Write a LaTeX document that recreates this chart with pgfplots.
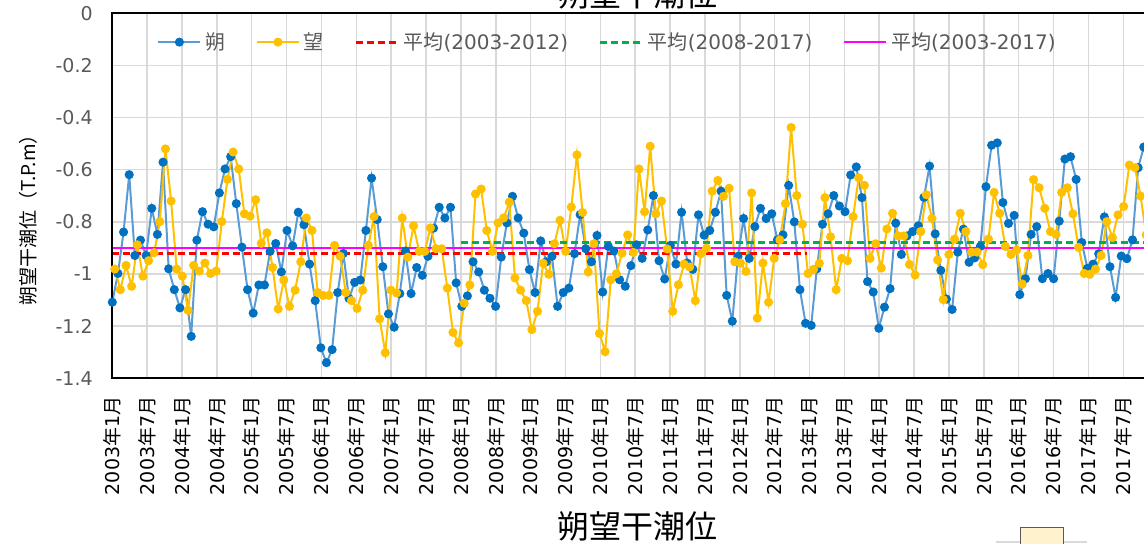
\documentclass[border=0pt]{standalone}
\usepackage{pgfplots}
\pgfplotsset{compat=1.18}
\usepackage{pgfplotstable}
\usepackage{fontspec}
\setmainfont{DejaVu Sans}
\newfontfamily\cjk{Noto Sans CJK JP}
\newcommand{\ym}[2]{#1{\cjk 年}#2{\cjk 月}}
\definecolor{shuoline}{HTML}{5B9BD5}
\definecolor{shuomark}{HTML}{0070C0}
\definecolor{wangc}{HTML}{FFC000}
\definecolor{avgred}{HTML}{FF0000}
\definecolor{avggreen}{HTML}{00B050}
\definecolor{avgmag}{HTML}{FF00FF}
\definecolor{tickgray}{HTML}{595959}
\definecolor{gridgray}{HTML}{D9D9D9}
\definecolor{boxfill}{HTML}{FFF2CC}

\pgfplotstableread{
x y
0 -1.108
0.97 -0.998
1.94 -0.839
2.91 -0.619
3.88 -0.929
4.85 -0.870
5.82 -0.929
6.79 -0.748
7.76 -0.848
8.73 -0.571
9.70 -0.980
10.67 -1.060
11.64 -1.130
12.61 -1.060
13.58 -1.239
14.55 -0.870
15.52 -0.761
16.49 -0.809
17.46 -0.819
18.43 -0.689
19.40 -0.597
20.37 -0.550
21.34 -0.730
22.31 -0.897
23.28 -1.060
24.25 -1.150
25.22 -1.042
26.19 -1.042
27.16 -0.913
28.13 -0.883
29.10 -0.992
30.07 -0.833
31.04 -0.892
32.01 -0.763
32.98 -0.811
33.95 -0.962
34.92 -1.102
35.89 -1.283
36.86 -1.340
37.83 -1.290
38.80 -1.071
39.77 -0.921
40.74 -1.094
41.71 -1.032
42.68 -1.023
43.65 -0.833
44.62 -0.632
45.59 -0.791
46.56 -0.972
47.53 -1.153
48.51 -1.204
49.48 -1.075
50.45 -0.912
51.42 -1.075
52.39 -0.975
53.36 -1.005
54.33 -0.932
55.30 -0.824
56.27 -0.744
57.24 -0.785
58.21 -0.744
59.18 -1.034
60.15 -1.124
61.12 -1.084
62.09 -0.953
63.06 -0.992
64.03 -1.062
65.00 -1.093
65.97 -1.124
66.94 -0.935
67.91 -0.804
68.88 -0.702
69.85 -0.785
70.82 -0.843
71.79 -0.983
72.76 -1.071
73.73 -0.873
74.70 -0.953
75.67 -0.932
76.64 -1.124
77.61 -1.071
78.58 -1.054
79.55 -0.922
80.52 -0.772
81.49 -0.903
82.46 -0.953
83.43 -0.852
84.40 -1.069
85.37 -0.894
86.34 -0.912
87.31 -1.022
88.28 -1.047
89.25 -0.968
90.22 -0.888
91.19 -0.940
92.16 -0.831
93.13 -0.699
94.10 -0.949
95.07 -1.019
96.04 -0.890
97.01 -0.962
97.98 -0.763
98.95 -0.958
99.92 -0.982
100.89 -0.773
101.86 -0.851
102.83 -0.833
103.80 -0.763
104.77 -0.682
105.74 -1.082
106.71 -1.181
107.68 -0.932
108.65 -0.787
109.62 -0.940
110.59 -0.818
111.56 -0.748
112.53 -0.787
113.50 -0.769
114.47 -0.869
115.44 -0.850
116.41 -0.660
117.38 -0.800
118.35 -1.060
119.32 -1.189
120.29 -1.197
121.26 -0.980
122.23 -0.809
123.20 -0.769
124.17 -0.699
125.14 -0.739
126.11 -0.761
127.08 -0.620
128.05 -0.589
129.02 -0.707
129.99 -1.029
130.96 -1.069
131.93 -1.208
132.90 -1.127
133.87 -1.056
134.84 -0.805
135.81 -0.925
136.78 -0.854
137.75 -0.837
138.72 -0.815
139.69 -0.706
140.66 -0.586
141.63 -0.846
142.60 -0.986
143.57 -1.096
144.54 -1.136
145.52 -0.916
146.49 -0.828
147.46 -0.955
148.43 -0.938
149.40 -0.894
150.37 -0.665
151.34 -0.506
152.31 -0.497
153.28 -0.726
154.25 -0.806
155.22 -0.775
156.19 -1.079
157.16 -1.018
158.13 -0.848
159.10 -0.818
160.07 -1.018
161.04 -0.998
162.01 -1.018
162.98 -0.797
163.95 -0.559
164.92 -0.550
165.89 -0.637
166.86 -0.879
167.83 -0.978
168.80 -0.962
169.77 -0.922
170.74 -0.781
171.71 -0.972
172.68 -1.090
173.65 -0.931
174.62 -0.941
175.59 -0.869
176.56 -0.592
177.53 -0.513
178.50 -0.550
}\shuotab

\pgfplotstableread{
x y
0.42 -0.981
1.39 -1.060
2.36 -0.967
3.33 -1.047
4.30 -0.888
5.27 -1.008
6.24 -0.949
7.21 -0.918
8.18 -0.799
9.15 -0.520
10.12 -0.720
11.09 -0.981
12.06 -1.008
13.03 -1.139
14.00 -0.967
14.97 -0.989
15.94 -0.958
16.91 -0.998
17.88 -0.989
18.85 -0.799
19.82 -0.637
20.79 -0.532
21.76 -0.597
22.73 -0.769
23.70 -0.778
24.67 -0.715
25.64 -0.882
26.61 -0.842
27.58 -0.975
28.55 -1.134
29.52 -1.023
30.49 -1.124
31.46 -1.062
32.43 -0.953
33.40 -0.785
34.37 -0.833
35.34 -1.071
36.31 -1.082
37.28 -1.082
38.25 -0.890
39.22 -0.932
40.19 -1.071
41.16 -1.102
42.13 -1.132
43.10 -1.062
44.07 -0.890
45.04 -0.780
46.01 -1.172
46.98 -1.302
47.95 -1.062
48.93 -1.073
49.90 -0.785
50.87 -0.935
51.84 -0.815
52.81 -0.913
53.78 -0.913
54.75 -0.823
55.72 -0.903
56.69 -0.903
57.66 -1.054
58.63 -1.224
59.60 -1.264
60.57 -1.112
61.54 -1.042
62.51 -0.693
63.48 -0.674
64.45 -0.833
65.42 -0.913
66.39 -0.804
67.36 -0.785
68.33 -0.724
69.30 -1.015
70.27 -1.062
71.24 -1.102
72.21 -1.213
73.18 -1.143
74.15 -0.959
75.12 -1.001
76.09 -0.884
77.06 -0.794
78.03 -0.913
79.00 -0.743
79.97 -0.543
80.94 -0.764
81.91 -0.992
82.88 -0.884
83.85 -1.228
84.82 -1.298
85.79 -1.022
86.76 -0.999
87.73 -0.920
88.70 -0.850
89.67 -0.917
90.64 -0.597
91.61 -0.761
92.58 -0.510
93.55 -0.769
94.52 -0.720
95.49 -0.904
96.46 -1.143
97.43 -1.041
98.40 -0.962
99.37 -0.973
100.34 -1.102
101.31 -0.922
102.28 -0.901
103.25 -0.682
104.22 -0.641
105.19 -0.702
106.16 -0.671
107.13 -0.953
108.10 -0.958
109.07 -0.990
110.04 -0.689
111.01 -1.169
111.98 -0.958
112.95 -1.108
113.92 -0.940
114.89 -0.869
115.86 -0.730
116.83 -0.438
117.80 -0.699
118.77 -0.809
119.74 -0.998
120.71 -0.982
121.68 -0.959
122.65 -0.707
123.62 -0.857
124.59 -1.060
125.56 -0.940
126.53 -0.949
127.50 -0.780
128.47 -0.631
129.44 -0.660
130.41 -0.940
131.38 -0.884
132.35 -0.977
133.32 -0.827
134.29 -0.767
135.26 -0.854
136.23 -0.854
137.20 -0.963
138.17 -1.004
139.14 -0.837
140.11 -0.696
141.08 -0.787
142.05 -0.946
143.02 -1.098
143.99 -0.925
144.96 -0.866
145.94 -0.767
146.91 -0.837
147.88 -0.916
148.85 -0.916
149.82 -0.964
150.79 -0.866
151.76 -0.687
152.73 -0.767
153.70 -0.894
154.67 -0.925
155.64 -0.908
156.61 -1.038
157.58 -0.929
158.55 -0.638
159.52 -0.669
160.49 -0.748
161.46 -0.837
162.43 -0.848
163.40 -0.687
164.37 -0.669
165.34 -0.769
166.31 -0.898
167.28 -0.998
168.25 -1.001
169.22 -0.981
170.19 -0.929
171.16 -0.799
172.13 -0.860
173.10 -0.773
174.07 -0.741
175.04 -0.582
176.01 -0.592
176.98 -0.701
177.95 -0.850
}\wangtab

\begin{document}
\begin{tikzpicture}
\begin{axis}[
  scale only axis,
  width=515.85pt, height=182.5pt,
  xmin=0, xmax=177.57, ymin=-1.4, ymax=0,
  clip=false,
  axis line style={draw=none},
  tick style={draw=none},
  major tick length=0pt,
  ytick={-1.4,-1.2,-1,-0.8,-0.6,-0.4,-0.2,0},
  yticklabels={-1.4,-1.2,-1,-0.8,-0.6,-0.4,-0.2,0},
  xtick={0,6,...,174},
  xticklabels={\ym{2003}{1},\ym{2003}{7},\ym{2004}{1},\ym{2004}{7},\ym{2005}{1},\ym{2005}{7},\ym{2006}{1},\ym{2006}{7},\ym{2007}{1},\ym{2007}{7},\ym{2008}{1},\ym{2008}{7},\ym{2009}{1},\ym{2009}{7},\ym{2010}{1},\ym{2010}{7},\ym{2011}{1},\ym{2011}{7},\ym{2012}{1},\ym{2012}{7},\ym{2013}{1},\ym{2013}{7},\ym{2014}{1},\ym{2014}{7},\ym{2015}{1},\ym{2015}{7},\ym{2016}{1},\ym{2016}{7},\ym{2017}{1},\ym{2017}{7}},
  grid=major,
  major grid style={gridgray, line width=0.75pt},
  yticklabel style={font=\fontsize{9.5}{11}\selectfont, text=tickgray, anchor=east, inner sep=0pt},
  yticklabel shift=9.6pt,
  xticklabel style={font=\fontsize{9.5}{11}\selectfont, text=black, rotate=90, anchor=east, inner sep=0pt},
  xticklabel shift=9pt,
  legend columns=5,
  legend style={draw=none, fill=none, at={(0.0375,0.921)}, anchor=west,
    font=\fontsize{10}{11}\selectfont, text=tickgray,
    /tikz/every even column/.append style={column sep=13.3pt}},
  legend image code/.code={\draw[mark repeat=2,mark phase=2,#1] plot coordinates {(0pt,0pt) (10.5pt,0pt) (21pt,0pt)};},
]
\addplot[shuoline, line width=1pt, mark=*, mark size=1.75pt, mark options={fill=shuomark, draw=shuomark, solid}] table[x=x,y=y] {\shuotab};
\addlegendentry{{\cjk 朔}}
\addplot[wangc, line width=1pt, mark=*, mark size=1.75pt, mark options={fill=wangc, draw=wangc, solid}] table[x=x,y=y] {\wangtab};
\addlegendentry{{\cjk 望}}
\addplot[avgred, line width=1.5pt, dash pattern=on 3.5pt off 2pt] coordinates {(0,-0.923) (119.5,-0.923)};
\addlegendentry{{\cjk 平均}(2003-2012)}
\addplot[avggreen, line width=1.5pt, dash pattern=on 3.5pt off 2pt] coordinates {(60,-0.881) (181,-0.881)};
\addlegendentry{{\cjk 平均}(2008-2017)}
\addplot[avgmag, line width=1pt] coordinates {(0,-0.900) (181,-0.900)};
\addlegendentry{{\cjk 平均}(2003-2017)}
\draw[black, line width=1pt] (axis description cs:1.05,1) -- (axis description cs:0,1) -- (axis description cs:0,0) -- (axis description cs:1.05,0);
\node[rotate=90, font=\fontsize{9.5}{10}\selectfont\cjk, text=black] at (axis description cs:-0.0817,0.447) {朔望干潮位（T.P.m）};
\node[font=\fontsize{16}{17}\selectfont\cjk, text=black] at (axis description cs:0.5086,-0.406) {朔望干潮位};
\node[font=\fontsize{16}{17}\selectfont\cjk, text=black] at (axis description cs:0.5086,1.053) {朔望干潮位};
\draw[gridgray, line width=0.75pt] (axis description cs:0.8565,-0.4485) -- (axis description cs:0.9447,-0.4485);
\filldraw[fill=boxfill, draw=tickgray, line width=0.5pt] (axis description cs:0.8798,-0.50) rectangle (axis description cs:0.9215,-0.4074);
\end{axis}
\pgfresetboundingbox
\useasboundingbox (-56.15pt,-82.35pt) rectangle (515.85pt,189.15pt);
\end{tikzpicture}
\end{document}
